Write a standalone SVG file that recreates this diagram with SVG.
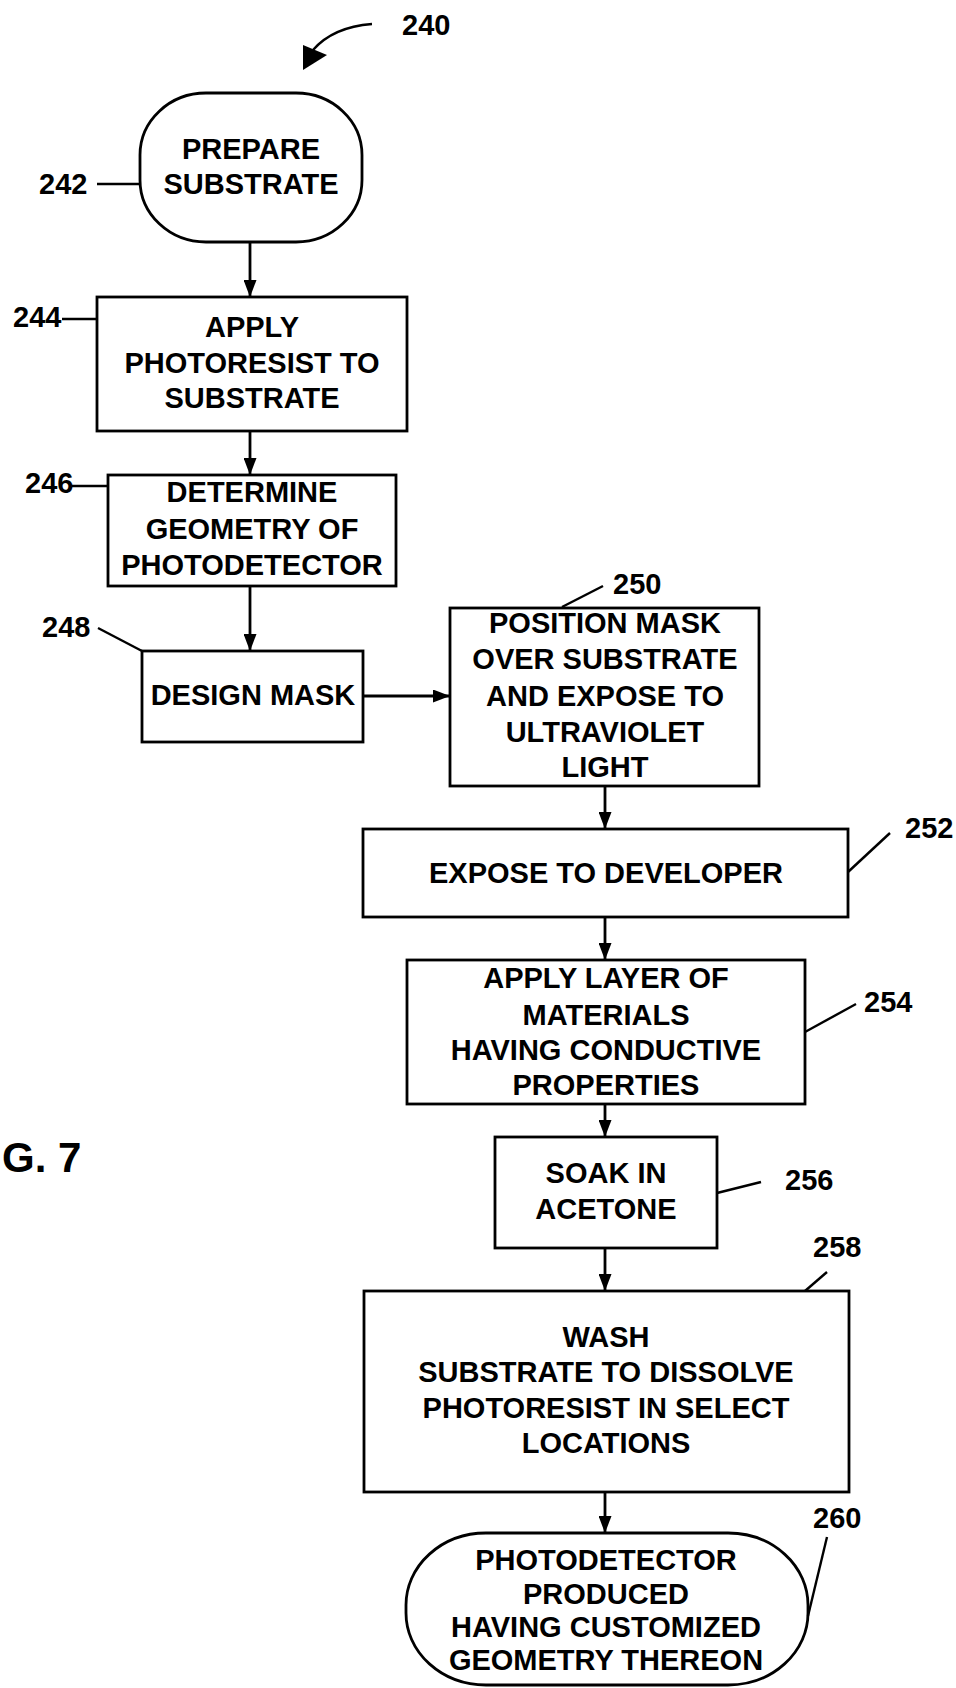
<svg xmlns="http://www.w3.org/2000/svg" width="956" height="1688" viewBox="0 0 956 1688">
<style>
.bx{fill:#fff;stroke:#000;stroke-width:2.8}
.t{font-family:"Liberation Sans",Arial,sans-serif;font-weight:bold;font-size:29px;fill:#000;text-anchor:middle}
.lb{font-family:"Liberation Sans",Arial,sans-serif;font-weight:bold;font-size:29px;fill:#000}
.fig{font-family:"Liberation Sans",Arial,sans-serif;font-weight:bold;font-size:42px;fill:#000}
.ld{fill:none;stroke:#000;stroke-width:2.4}
.cn{fill:none;stroke:#000;stroke-width:2.8}
</style>
<defs>
<marker id="ah" markerWidth="17" markerHeight="13" refX="17" refY="6.5" orient="auto" markerUnits="userSpaceOnUse">
<path d="M0,0 L17,6.5 L0,13 z" fill="#000"/>
</marker>
</defs>
<rect width="956" height="1688" fill="#fff"/>

<g id="connectors">
<line class="cn" x1="250" y1="242" x2="250" y2="297" marker-end="url(#ah)"/>
<line class="cn" x1="250" y1="431" x2="250" y2="475" marker-end="url(#ah)"/>
<line class="cn" x1="250" y1="586" x2="250" y2="651" marker-end="url(#ah)"/>
<line class="cn" x1="363" y1="696" x2="450" y2="696" marker-end="url(#ah)"/>
<line class="cn" x1="605" y1="786" x2="605" y2="829" marker-end="url(#ah)"/>
<line class="cn" x1="605" y1="917" x2="605" y2="960" marker-end="url(#ah)"/>
<line class="cn" x1="605" y1="1104" x2="605" y2="1137" marker-end="url(#ah)"/>
<line class="cn" x1="605" y1="1248" x2="605" y2="1291" marker-end="url(#ah)"/>
<line class="cn" x1="605" y1="1492" x2="605" y2="1533" marker-end="url(#ah)"/>
</g>

<g id="ref240">
<path class="ld" d="M372,24 Q333,27 313,50" stroke-width="2.8"/>
<path d="M303,70 L303,45 L327,55 z" fill="#000"/>
<text class="lb" x="402" y="35">240</text>
</g>

<g id="n242">
<rect class="bx" x="140" y="93" width="222" height="149" rx="66" ry="62"/>
<text class="t" x="251" y="159">PREPARE</text>
<text class="t" x="251" y="194">SUBSTRATE</text>
<line class="ld" x1="97" y1="184" x2="140" y2="184"/>
<text class="lb" x="39" y="194">242</text>
</g>

<g id="n244">
<rect class="bx" x="97" y="297" width="310" height="134"/>
<text class="t" x="252" y="337">APPLY</text>
<text class="t" x="252" y="373">PHOTORESIST TO</text>
<text class="t" x="252" y="408">SUBSTRATE</text>
<line class="ld" x1="62" y1="319" x2="97" y2="319"/>
<text class="lb" x="13" y="327">244</text>
</g>

<g id="n246">
<rect class="bx" x="108" y="475" width="288" height="111"/>
<text class="t" x="252" y="502">DETERMINE</text>
<text class="t" x="252" y="539">GEOMETRY OF</text>
<text class="t" x="252" y="575">PHOTODETECTOR</text>
<line class="ld" x1="72" y1="486" x2="108" y2="486"/>
<text class="lb" x="25" y="493">246</text>
</g>

<g id="n248">
<rect class="bx" x="142" y="651" width="221" height="91"/>
<text class="t" x="253" y="705">DESIGN MASK</text>
<line class="ld" x1="98" y1="628" x2="142" y2="651"/>
<text class="lb" x="42" y="637">248</text>
</g>

<g id="n250">
<rect class="bx" x="450" y="608" width="309" height="178"/>
<text class="t" x="605" y="633">POSITION MASK</text>
<text class="t" x="605" y="669">OVER SUBSTRATE</text>
<text class="t" x="605" y="706">AND EXPOSE TO</text>
<text class="t" x="605" y="742">ULTRAVIOLET</text>
<text class="t" x="605" y="777">LIGHT</text>
<line class="ld" x1="562" y1="607" x2="603" y2="586"/>
<text class="lb" x="613" y="594">250</text>
</g>

<g id="n252">
<rect class="bx" x="363" y="829" width="485" height="88"/>
<text class="t" x="606" y="883">EXPOSE TO DEVELOPER</text>
<line class="ld" x1="848" y1="872" x2="890" y2="833"/>
<text class="lb" x="905" y="838">252</text>
</g>

<g id="n254">
<rect class="bx" x="407" y="960" width="398" height="144"/>
<text class="t" x="606" y="988">APPLY LAYER OF</text>
<text class="t" x="606" y="1025">MATERIALS</text>
<text class="t" x="606" y="1060">HAVING CONDUCTIVE</text>
<text class="t" x="606" y="1095">PROPERTIES</text>
<line class="ld" x1="805" y1="1032" x2="856" y2="1004"/>
<text class="lb" x="864" y="1012">254</text>
</g>

<g id="n256">
<rect class="bx" x="495" y="1137" width="222" height="111"/>
<text class="t" x="606" y="1183">SOAK IN</text>
<text class="t" x="606" y="1219">ACETONE</text>
<line class="ld" x1="717" y1="1193" x2="761" y2="1182"/>
<text class="lb" x="785" y="1190">256</text>
</g>

<g id="n258">
<rect class="bx" x="364" y="1291" width="485" height="201"/>
<text class="t" x="606" y="1347">WASH</text>
<text class="t" x="606" y="1382">SUBSTRATE TO DISSOLVE</text>
<text class="t" x="606" y="1418">PHOTORESIST IN SELECT</text>
<text class="t" x="606" y="1453">LOCATIONS</text>
<line class="ld" x1="805" y1="1291" x2="827" y2="1272"/>
<text class="lb" x="813" y="1257">258</text>
</g>

<g id="n260">
<rect class="bx" x="406" y="1533" width="402" height="152" rx="80" ry="72"/>
<text class="t" x="606" y="1570">PHOTODETECTOR</text>
<text class="t" x="606" y="1604">PRODUCED</text>
<text class="t" x="606" y="1637">HAVING CUSTOMIZED</text>
<text class="t" x="606" y="1670">GEOMETRY THEREON</text>
<line class="ld" x1="827" y1="1537" x2="808" y2="1616"/>
<text class="lb" x="813" y="1528">260</text>
</g>

<g id="figlabel">
<text class="fig" x="2" y="1172">G. 7</text>
</g>
</svg>
